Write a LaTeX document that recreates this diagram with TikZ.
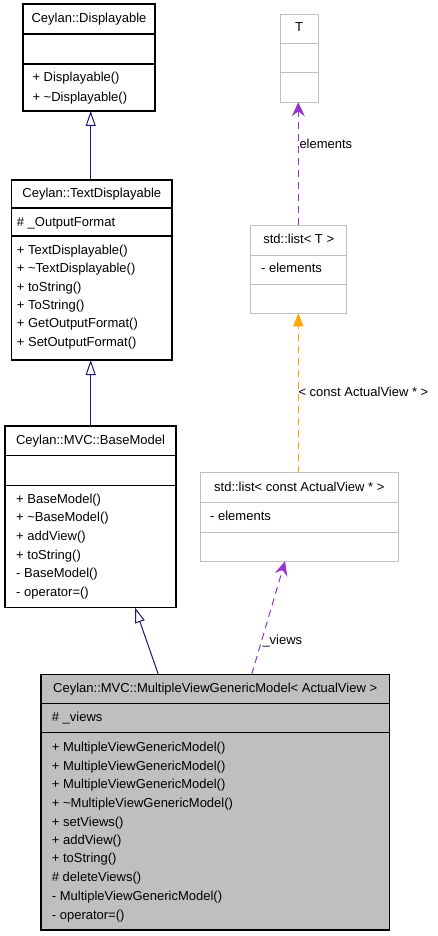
\documentclass[tikz,border=0pt]{standalone}
\usepackage{fontspec}
\setmainfont{Liberation Sans}
\usetikzlibrary{arrows.meta,calc}
\definecolor{navyc}{HTML}{191970}
\definecolor{purp}{HTML}{9A32CD}
\definecolor{orng}{HTML}{FFA500}
\definecolor{grayb}{HTML}{BFBFBF}
\definecolor{fillg}{HTML}{BFBFBF}
\begin{document}
\begin{tikzpicture}[x=1pt,y=-1pt,
  cls/.style={draw=black, line width=1.2pt, inner sep=0pt, outer sep=0pt, anchor=north west},
  gcls/.style={draw=grayb, line width=1pt, inner sep=0pt, outer sep=0pt, anchor=north west},
  sepb/.style={draw=black, line width=1.2pt},
  sepg/.style={draw=grayb, line width=1pt},
  txt/.style={anchor=base west, inner sep=0pt, font=\fontsize{13}{15}\selectfont},
  ttl/.style={anchor=base, inner sep=0pt, font=\fontsize{13}{15}\selectfont},
  inh/.style={draw=navyc, line width=1pt, -{Triangle[open, length=15pt, width=10pt, fill=white]}},
  dep/.style={draw=purp, line width=1pt, dash pattern=on 7pt off 5pt, -{Stealth[length=14pt, width=13pt, inset=5pt]}},
  tmpl/.style={draw=orng, line width=1pt, dash pattern=on 7pt off 5pt, -{Triangle[length=13pt, width=10pt]}}]
\useasboundingbox (0,0) rectangle (437,936);

% Ceylan::Displayable
\node[cls, minimum width=132pt, minimum height=107pt] (d) at (23,4) {};
\draw[sepb] ($(d.north west)+(0,30)$) -- ($(d.north east)+(0,30)$);
\draw[sepb] ($(d.north west)+(0,60)$) -- ($(d.north east)+(0,60)$);
\node[ttl] (dt) at (89,22.8) {Ceylan::Displayable};
\node[txt] (d1) at (32.3,81.8) {+ Displayable()};
\node[txt] (d2) at (32.3,101.2) {+ \textasciitilde Displayable()};

% Ceylan::TextDisplayable
\node[cls, minimum width=160.3pt, minimum height=180pt] (td) at (11.7,180) {};
\draw[sepb] ($(td.north west)+(0,28)$) -- ($(td.north east)+(0,28)$);
\draw[sepb] ($(td.north west)+(0,56)$) -- ($(td.north east)+(0,56)$);
\node[ttl] (tdt) at (91.8,197.5) {Ceylan::TextDisplayable};
\node[txt] (tda) at (16.7,226.5) {\# \_OutputFormat};
\node[txt] (td1) at (16.7,254.5) {+ TextDisplayable()};
\node[txt] (td2) at (16.7,272.8) {+ \textasciitilde TextDisplayable()};
\node[txt] (td3) at (16.7,291.2) {+ toString()};
\node[txt] (td4) at (16.7,309.5) {+ ToString()};
\node[txt] (td5) at (16.7,327.8) {+ GetOutputFormat()};
\node[txt] (td6) at (16.7,346.2) {+ SetOutputFormat()};

% Ceylan::MVC::BaseModel
\node[cls, minimum width=171pt, minimum height=181.7pt] (bm) at (5,426) {};
\draw[sepb] ($(bm.north west)+(0,29.7)$) -- ($(bm.north east)+(0,29.7)$);
\draw[sepb] ($(bm.north west)+(0,59.3)$) -- ($(bm.north east)+(0,59.3)$);
\node[ttl] (bmt) at (90.5,444.5) {Ceylan::MVC::BaseModel};
\node[txt] (bm1) at (16,503.5) {+ BaseModel()};
\node[txt] (bm2) at (16,521.8) {+ \textasciitilde BaseModel()};
\node[txt] (bm3) at (16,540.5) {+ addView()};
\node[txt] (bm4) at (16,559.5) {+ toString()};
\node[txt] (bm5) at (16,577.8) {- BaseModel()};
\node[txt] (bm6) at (16,596.2) {- operator=()};

% std::list< const ActualView * >
\node[gcls, minimum width=198.7pt, minimum height=88.6pt] (l2) at (200,472.7) {};
\draw[sepg] ($(l2.north west)+(0,29.6)$) -- ($(l2.north east)+(0,29.6)$);
\draw[sepg] ($(l2.north west)+(0,59.3)$) -- ($(l2.north east)+(0,59.3)$);
\node[ttl] (l2t) at (299.3,491.2) {std::list< const ActualView * >};
\node[txt] (l2a) at (210,520.2) {- elements};

% T
\node[gcls, minimum width=38.3pt, minimum height=88pt] (t) at (280,14.3) {};
\draw[sepg] ($(t.north west)+(0,29)$) -- ($(t.north east)+(0,29)$);
\draw[sepg] ($(t.north west)+(0,58.4)$) -- ($(t.north east)+(0,58.4)$);
\node[ttl] (tt) at (299.2,31.5) {T};

% std::list< T >
\node[gcls, minimum width=96pt, minimum height=88.3pt] (lt) at (250.7,225) {};
\draw[sepg] ($(lt.north west)+(0,30)$) -- ($(lt.north east)+(0,30)$);
\draw[sepg] ($(lt.north west)+(0,59)$) -- ($(lt.north east)+(0,59)$);
\node[ttl] (ltt) at (298.7,243.5) {std::list< T >};
\node[txt] (lta) at (261,272.2) {- elements};

% Ceylan::MVC::MultipleViewGenericModel< ActualView >
\node[cls, fill=fillg, minimum width=348.3pt, minimum height=255.7pt] (mv) at (41,674.3) {};
\draw[sepb] ($(mv.north west)+(0,29)$) -- ($(mv.north east)+(0,29)$);
\draw[sepb] ($(mv.north west)+(0,58.4)$) -- ($(mv.north east)+(0,58.4)$);
\node[ttl] (mvt) at (215.2,692.2) {Ceylan::MVC::MultipleViewGenericModel< ActualView >};
\node[txt] (mva) at (51.7,721.2) {\# \_views};
\node[txt] (mv1) at (51.7,751.2) {+ MultipleViewGenericModel()};
\node[txt] (mv2) at (51.7,770.2) {+ MultipleViewGenericModel()};
\node[txt] (mv3) at (51.7,788.5) {+ MultipleViewGenericModel()};
\node[txt] (mv4) at (51.7,807.8) {+ \textasciitilde MultipleViewGenericModel()};
\node[txt] (mv5) at (51.7,826.2) {+ setViews()};
\node[txt] (mv6) at (51.7,844.5) {+ addView()};
\node[txt] (mv7) at (51.7,862.8) {+ toString()};
\node[txt] (mv8) at (51.7,881.2) {\# deleteViews()};
\node[txt] (mv9) at (51.7,900.5) {- MultipleViewGenericModel()};
\node[txt] (mv10) at (51.7,919.5) {- operator=()};

% connectors
\draw[inh] ($(td.north west)+(79,0)$) -- ($(d.south west)+(67.7,0)$);
\draw[inh] ($(bm.north west)+(85.7,0)$) -- ($(td.south west)+(79,0)$);
\draw[inh] ($(mv.north west)+(117.3,0)$) -- ($(bm.south west)+(130,0)$);
\draw[dep] ($(mv.north west)+(210.7,0)$) -- ($(l2.south west)+(85,0)$);
\draw[tmpl] ($(l2.north west)+(98.3,0)$) -- ($(lt.south west)+(47.6,0)$);
\draw[dep] ($(lt.north west)+(47.6,0)$) -- ($(t.south west)+(18.3,0)$);

% labels
\node[txt] (lblv) at (262.3,644.5) {\_views};
\node[txt] (lblt) at (298.3,396.2) {< const ActualView * >};
\node[txt] (lble) at (299.3,148.5) {elements};
\end{tikzpicture}
\end{document}
